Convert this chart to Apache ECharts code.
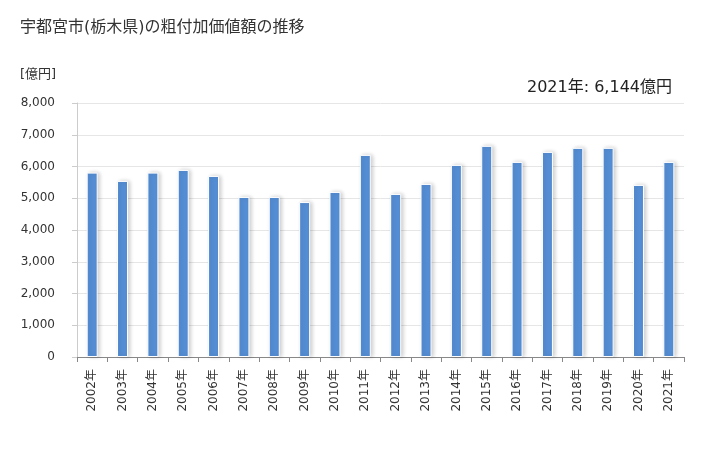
<!DOCTYPE html>
<html><head><meta charset="utf-8">
<script src="https://cdn.jsdelivr.net/npm/echarts@6/dist/echarts.min.js"></script>
<style>html,body{margin:0;padding:0;background:#fff}#c{width:728px;height:450px}</style>
</head><body><div id="c"></div>
<script>
const years = ['2002年','2003年','2004年','2005年','2006年','2007年','2008年','2009年','2010年','2011年','2012年','2013年','2014年','2015年','2016年','2017年','2018年','2019年','2020年','2021年'];
const values = [5808,5546,5808,5893,5703,5041,5041,4880,5199,6366,5136,5451,6050,6650,6145,6460,6587,6587,5420,6144];
const yTicks = {min:0, max:8000, interval:1000};
const titleText = '宇都宮市(栃木県)の粗付加価値額の推移';
const unitText = '[億円]';
const noteText = '2021年: 6,144億円';
const F = '"DejaVu Sans", "Noto Sans CJK JP", sans-serif';
const chart = echarts.init(document.getElementById('c'));
chart.setOption({
  animation:false,
  title:[
    {text:titleText, left:15, top:15, textStyle:{fontFamily:F, fontSize:16, fontWeight:'normal', color:'#333'}},
    {text:unitText, left:15, top:63, textStyle:{fontFamily:F, fontSize:13, fontWeight:'normal', color:'#333'}},
    {text:noteText, right:51, top:75, textStyle:{fontFamily:F, fontSize:16, fontWeight:'normal', color:'#222'}}
  ],
  grid:{left:77, right:44, top:103, bottom:93},
  xAxis:{type:'category', data:years,
    axisLine:{lineStyle:{color:'#888'}},
    axisTick:{show:true, length:5, lineStyle:{color:'#888'}},
    axisLabel:{rotate:90, fontFamily:F, fontSize:12, color:'#333', margin:12}},
  yAxis:{type:'value', min:yTicks.min, max:yTicks.max, interval:yTicks.interval,
    axisLine:{show:true, lineStyle:{color:'#ccc'}},
    axisTick:{show:true, length:5, lineStyle:{color:'#ccc'}},
    splitLine:{lineStyle:{color:'#e6e6e6'}},
    axisLabel:{fontFamily:F, fontSize:12, color:'#333', margin:22,
      formatter:v=>v.toLocaleString('en-US')}},
  series:[{type:'bar', data:values, barWidth:11,
    itemStyle:{color:'#558ed5', borderColor:'#fff', borderWidth:1,
      shadowColor:'rgba(0,0,0,0.2)', shadowBlur:4, shadowOffsetX:2, shadowOffsetY:0}}]
});
</script></body></html>
